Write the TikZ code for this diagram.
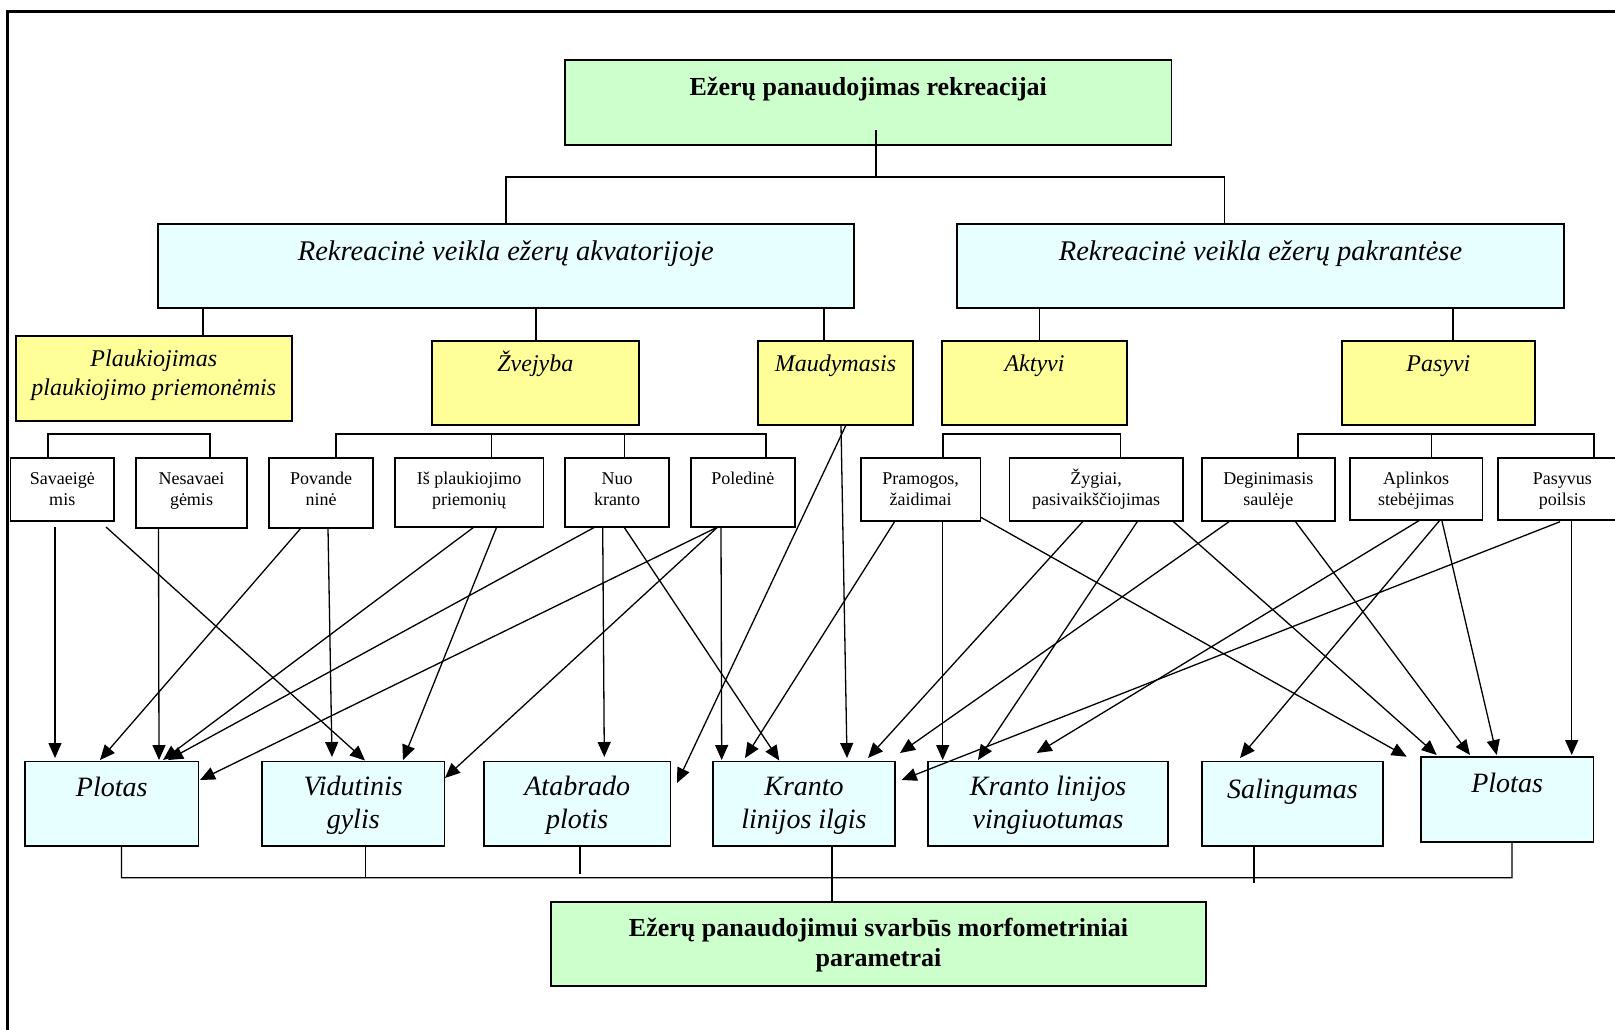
\documentclass[tikz,border=0pt]{standalone}
\usepackage{fontspec}
\setmainfont{Liberation Serif}
\usetikzlibrary{arrows.meta,calc}

\definecolor{headgreen}{HTML}{CCFFCC}
\definecolor{paleaqua}{HTML}{E8FFFF}
\definecolor{paleyellow}{HTML}{FFFF99}

\tikzset{
  box/.style={draw, line width=1.8pt, anchor=north west, inner sep=0pt, outer sep=0pt},
  greenbox/.style={box, fill=headgreen},
  aquabox/.style={box, fill=paleaqua},
  yellowbox/.style={box, fill=paleyellow},
  whitebox/.style={box, fill=white, line width=1.6pt},
  link/.style={line width=1.4pt},
  frame/.style={line width=2.7pt},
  arr/.style={line width=1.3pt, -{Triangle[length=15pt,width=13pt]}},
  % multi-line texts sit on the baseline of their last line
  txt/.style={anchor=base, inner sep=0pt, align=center},
  t-head/.style={txt, font=\fontsize{26pt}{30pt}\selectfont\bfseries},
  t-area/.style={txt, font=\fontsize{28.5pt}{33pt}\selectfont\itshape},
  t-kind/.style={txt, font=\fontsize{24pt}{28.3pt}\selectfont\itshape},
  t-act/.style={txt, font=\fontsize{18pt}{21pt}\selectfont},
  t-par/.style={txt, font=\fontsize{28pt}{33pt}\selectfont\itshape},
}

% box: style, name, left, top, right, bottom
\newcommand\mkbox[6]{%
  \node[#1, minimum width={#5pt-#3pt}, minimum height={#6pt-#4pt}] (#2) at (#3,#4) {};}

\begin{document}
\begin{tikzpicture}[x=1pt, y=-1pt]
\useasboundingbox (0,0) rectangle (1615,1029);
\fill[white] (0,0) rectangle (1615,1029);

% outer frame
\draw[frame] (7.7,1040) -- (7.7,11.7) -- (1630,11.7);

% ---- boxes ----
\mkbox{greenbox}{top}{565}{60}{1171.5}{145}
\mkbox{aquabox}{akv}{158}{224}{853.7}{308}
\mkbox{aquabox}{pak}{957}{224}{1564}{308}

\mkbox{yellowbox}{plauk}{16}{336}{291.6}{420.7}
\mkbox{yellowbox}{zvej}{431.7}{340.7}{639}{425}
\mkbox{yellowbox}{maud}{758}{340.7}{913}{425}
\mkbox{yellowbox}{akt}{942}{340.7}{1127}{425}
\mkbox{yellowbox}{pas}{1341.7}{340.7}{1535}{425}

\mkbox{whitebox}{sav}{10.5}{458}{114}{521}
\mkbox{whitebox}{nes}{136}{458}{247}{528}
\mkbox{whitebox}{pov}{269}{458}{373}{528}
\mkbox{whitebox}{isp}{395}{458}{543.3}{527}
\mkbox{whitebox}{nuo}{565}{458}{669}{527}
\mkbox{whitebox}{pol}{690.7}{458}{795}{527}
\mkbox{whitebox}{pra}{861}{458}{980.3}{521}
\mkbox{whitebox}{zyg}{1009.3}{458}{1182.7}{521}
\mkbox{whitebox}{deg}{1201.7}{458}{1335}{521}
\mkbox{whitebox}{apl}{1350}{458}{1482.3}{520}
\mkbox{whitebox}{psv}{1497.7}{458}{1627}{520}

\mkbox{aquabox}{plo1}{25}{761.5}{198.5}{846}
\mkbox{aquabox}{vid}{262}{761.5}{444.5}{846}
\mkbox{aquabox}{ata}{484}{761.5}{670.5}{846}
\mkbox{aquabox}{kil}{713}{761.5}{895}{846}
\mkbox{aquabox}{kvi}{928.3}{761.5}{1167.7}{846}
\mkbox{aquabox}{sal}{1201.7}{761.5}{1383}{846}
\mkbox{aquabox}{plo2}{1420.7}{757.3}{1593.5}{842}

\mkbox{greenbox}{bot}{551}{901.7}{1206}{986}

% ---- texts ----
\node[t-head] (top-t) at ($(top.north)+(0,35)$) {Ežerų panaudojimas rekreacijai};
\node[t-area] (akv-t) at ($(akv.north)+(0,36)$) {Rekreacinė veikla ežerų akvatorijoje};
\node[t-area] (pak-t) at ($(pak.north)+(0,36)$) {Rekreacinė veikla ežerų pakrantėse};

\node[t-kind] (plauk-t) at ($(plauk.north)+(0,59)$) {Plaukiojimas\\plaukiojimo priemonėmis};
\node[t-kind] (zvej-t) at ($(zvej.north)+(0,31)$) {Žvejyba};
\node[t-kind] (maud-t) at ($(maud.north)+(0,31)$) {Maudymasis};
\node[t-kind] (akt-t) at ($(akt.north)+(0,31)$) {Aktyvi};
\node[t-kind] (pas-t) at ($(pas.north)+(0,31)$) {Pasyvi};

\node[t-act] (sav-t) at ($(sav.north)+(0,47)$) {Savaeigė\\mis};
\node[t-act] (nes-t) at ($(nes.north)+(0,47)$) {Nesavaei\\gėmis};
\node[t-act] (pov-t) at ($(pov.north)+(0,47)$) {Povande\\ninė};
\node[t-act] (isp-t) at ($(isp.north)+(0,47)$) {Iš plaukiojimo\\priemonių};
\node[t-act] (nuo-t) at ($(nuo.north)+(0,47)$) {Nuo\\kranto};
\node[t-act] (pol-t) at ($(pol.north)+(0,26)$) {Poledinė};
\node[t-act] (pra-t) at ($(pra.north)+(0,47)$) {Pramogos,\\žaidimai};
\node[t-act] (zyg-t) at ($(zyg.north)+(0,47)$) {Žygiai,\\pasivaikščiojimas};
\node[t-act] (deg-t) at ($(deg.north)+(0,47)$) {Deginimasis\\saulėje};
\node[t-act] (apl-t) at ($(apl.north)+(0,47)$) {Aplinkos\\stebėjimas};
\node[t-act] (psv-t) at ($(psv.north)+(0,47)$) {Pasyvus\\poilsis};

\node[t-par] (plo1-t) at ($(plo1.north)+(0,35)$) {Plotas};
\node[t-par] (vid-t) at ($(vid.north)+(0,67)$) {Vidutinis\\gylis};
\node[t-par] (ata-t) at ($(ata.north)+(0,67)$) {Atabrado\\plotis};
\node[t-par] (kil-t) at ($(kil.north)+(0,67)$) {Kranto\\linijos ilgis};
\node[t-par] (kvi-t) at ($(kvi.north)+(0,67)$) {Kranto linijos\\vingiuotumas};
\node[t-par] (sal-t) at ($(sal.north)+(0,37)$) {Salingumas};
\node[t-par] (plo2-t) at ($(plo2.north)+(0,35.5)$) {Plotas};

\node[t-head] (bot-t) at ($(bot.north)+(0,65)$) {Ežerų panaudojimui svarbūs morfometriniai\\parametrai};

% ---- tree links ----
\coordinate (split) at (876,177);
\draw[link] ($(top.south)+(7.75,-15)$) -- (split);
\draw[link] (akv.north) |- (split) -| ($(pak.north)+(-36,0)$);

\draw[link] ($(akv.south west)+(45,0)$) -- ($(plauk.north west)+(187,0)$);
\draw[link] ($(akv.south west)+(377.8,0)$) -- ($(zvej.north west)+(104.1,0)$);
\draw[link] ($(akv.south west)+(666,0)$) -- ($(maud.north west)+(66,0)$);
\draw[link] ($(pak.south west)+(82.5,0)$) -- ($(akt.north west)+(97.5,0)$);
\draw[link] ($(pak.south west)+(496,0)$) -- ($(pas.north west)+(111.3,0)$);

% brackets over the activity boxes
\draw[link] ($(sav.north west)+(37.5,0)$) -- ++(0,-24) -| ($(nes.north west)+(74,0)$);
\draw[link] ($(pov.north west)+(67,0)$) -- ++(0,-24) -| ($(pol.north west)+(75.3,0)$);
\draw[link] ($(isp.north west)+(96.6,0)$) -- ++(0,-24);
\draw[link] ($(nuo.north west)+(59.5,0)$) -- ++(0,-24);
\draw[link] ($(pra.north west)+(82,0)$) -- ++(0,-24) -| ($(zyg.north west)+(111.4,0)$);
\draw[link] ($(deg.north west)+(96.3,0)$) -- ++(0,-24) -| ($(psv.north west)+(96.3,0)$);
\draw[link] ($(apl.north west)+(81.5,0)$) -- ++(0,-24);

% bracket under the parameter boxes
\draw[link] ($(plo1.south)+(9.75,0)$) -- ++(0,31.7) -- ++(1390.5,0) -- ($(plo2.south)+(4.9,0)$);
\draw[link] ($(vid.south)+(12.35,0)$) -- ++(0,31.7);
\draw[link] ($(ata.south)+(2.75,0)$) -- ++(0,28);
\draw[link] ($(kil.south)+(28,0)$) -- ($(bot.north west)+(281,0)$);
\draw[link] ($(sal.south)+(-38.35,0)$) -- ++(0,37);

% ---- arrows: activity -> parameter ----
\draw[arr] ($(sav.south west)+(44.5,6)$) -- ($(plo1.north west)+(30,-3.5)$);
\draw[arr] ($(sav.south west)+(95.5,6)$) -- ($(vid.north west)+(103,-1)$);
\draw[arr] ($(nes.south west)+(22.5,0)$) -- ($(plo1.north west)+(134,-1.5)$);
\draw[arr] ($(pov.south west)+(32,0)$) -- ($(plo1.north west)+(75,-1.5)$);
\draw[arr] ($(pov.south west)+(59,0)$) -- ($(vid.north west)+(70,-4.5)$);
\draw[arr] ($(isp.south west)+(79,0)$) -- ($(plo1.north west)+(138,-1.5)$);
\draw[arr] ($(isp.south west)+(101.7,0)$) -- ($(vid.north west)+(141,-1.5)$);
\draw[arr] ($(nuo.south west)+(30,0)$) -- ($(plo1.north west)+(143,-1.5)$);
\draw[arr] ($(nuo.south west)+(37.7,0)$) -- ($(ata.north west)+(120.3,-4.5)$);
\draw[arr] ($(nuo.south west)+(59,0)$) -- ($(kil.north west)+(66.3,-1)$);
\draw[arr] ($(pol.south west)+(27,0)$) -- ($(plo1.north east)+(1.5,18.5)$);
\draw[arr] ($(pol.south west)+(27,0)$) -- ($(vid.north east)+(0.5,16.5)$);
\draw[arr] ($(pol.south west)+(30.3,0)$) -- ($(kil.north west)+(8.7,-1.5)$);
\draw[arr] ($(maud.south west)+(88,0)$) -- ($(ata.north east)+(6.5,21.5)$);
\draw[arr] ($(maud.south west)+(83,0)$) -- ($(kil.north west)+(134,-3.5)$);
\draw[arr] ($(pra.south west)+(34,0)$) -- ($(kil.north west)+(32,-3.5)$);
\draw[arr] ($(pra.south west)+(81.7,0)$) -- ($(kvi.north west)+(14.4,-1.5)$);
\draw[arr] ($(pra.south east)+(0,-4)$) -- ($(plo2.north west)+(-14,-0.6)$);
\draw[arr] ($(zyg.south west)+(74,0)$) -- ($(kil.north west)+(155,-3.5)$);
\draw[arr] ($(zyg.south west)+(128.4,0)$) -- ($(kvi.north west)+(49.7,-1.5)$);
\draw[arr] ($(zyg.south west)+(163.4,0)$) -- ($(plo2.north west)+(16,-2.3)$);
\draw[arr] ($(deg.south west)+(28.3,0)$) -- ($(kil.north east)+(5,-8.5)$);
\draw[arr] ($(deg.south west)+(93.3,0)$) -- ($(plo2.north west)+(49.3,-2.3)$);
\draw[arr] ($(apl.south west)+(70,0)$) -- ($(kvi.north west)+(108.4,-8.5)$);
\draw[arr] ($(apl.south west)+(90,0)$) -- ($(sal.north west)+(38.3,-3.5)$);
\draw[arr] ($(apl.south west)+(91.7,0)$) -- ($(plo2.north west)+(76,-2.3)$);
\draw[arr] ($(psv.south west)+(62.3,1.7)$) -- ($(kil.north east)+(6.7,18.5)$);
\draw[arr] ($(psv.south west)+(74,1)$) -- ($(plo2.north west)+(151,-2.3)$);
\end{tikzpicture}
\end{document}
